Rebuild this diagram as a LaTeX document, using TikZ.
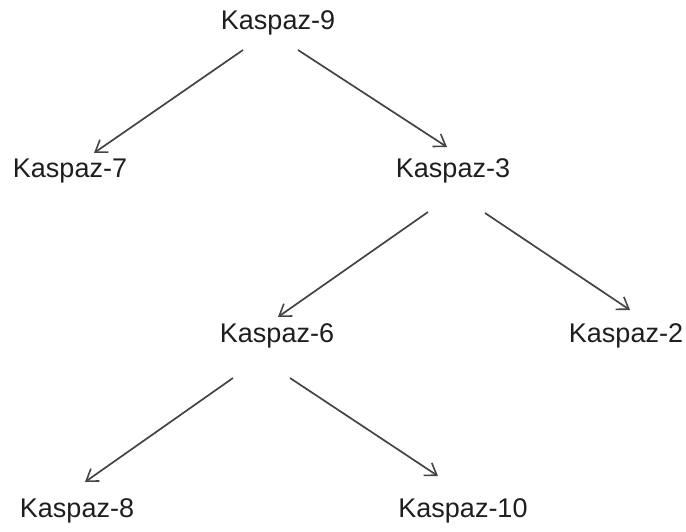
\documentclass[tikz,border=0pt]{standalone}
\usepackage{fontspec}
\setmainfont{Liberation Sans}
\usetikzlibrary{arrows.meta,calc}
\definecolor{txt}{HTML}{1E1E1E}
\definecolor{edge}{HTML}{444444}
\begin{document}
\begin{tikzpicture}[x=1pt,y=-1pt,
  lbl/.style={anchor=base,inner sep=0pt,text=txt,font=\fontsize{27}{32}\selectfont},
  arr/.style={draw=edge,line width=1.7pt,-{Straight Barb[length=11pt,width=15pt,line width=1.6pt]}}]
\useasboundingbox[fill=white] (0,0) rectangle (686,532);
\node[lbl] (n9) at (278,30) {Kaspaz-9};
\node[lbl] (n7) at (70,178) {Kaspaz-7};
\node[lbl] (n3) at (453,178) {Kaspaz-3};
\node[lbl] (n6) at (277,342) {Kaspaz-6};
\node[lbl] (n2) at (626,342) {Kaspaz-2};
\node[lbl] (n8) at (77,517) {Kaspaz-8};
\node[lbl] (n10) at (463,517) {Kaspaz-10};
\draw[arr] ($(n9.base)+(-35,20)$) -- ($(n7.base)+(24,-25)$);
\draw[arr] ($(n9.base)+(20,20)$) -- ($(n3.base)+(-6,-31)$);
\draw[arr] ($(n3.base)+(-25,34)$) -- ($(n6.base)+(1,-25)$);
\draw[arr] ($(n3.base)+(32,35)$) -- ($(n2.base)+(4,-32)$);
\draw[arr] ($(n6.base)+(-44,36)$) -- ($(n8.base)+(8,-35)$);
\draw[arr] ($(n6.base)+(13,36)$) -- ($(n10.base)+(-25,-41)$);
\end{tikzpicture}
\end{document}
